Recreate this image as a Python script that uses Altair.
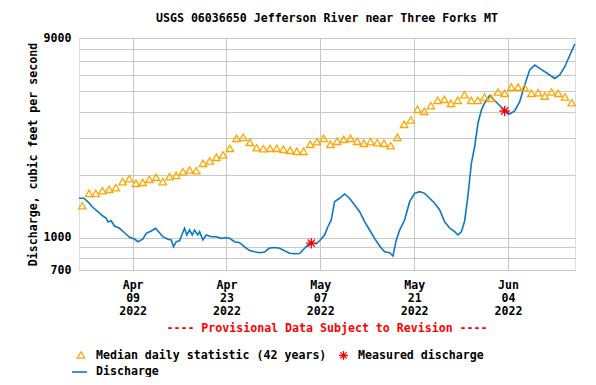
import altair as alt
import pandas as pd

# ---- data ----
START_MS = 1648771200000  # 2022-04-01T00:00:00Z
DAY_MS = 86400000

discharge_days = [0.0, 0.72, 1.31, 2.06, 2.81, 3.55, 4.06, 4.30, 4.81, 5.30,
                  6.04, 6.79, 7.54, 8.28, 8.78, 9.52, 10.03, 10.78, 11.42, 12.01,
                  12.51, 13.25, 13.76, 14.10, 14.51, 15.0, 15.34, 15.75, 16.09, 16.49,
                  16.90, 17.24, 17.73, 17.99, 18.48, 18.99, 19.73, 20.48, 21.22, 21.97,
                  22.46, 23.21, 23.96, 24.70, 25.45, 26.19, 26.94, 27.69, 28.33, 29.18,
                  29.93, 30.67, 31.42, 32.16, 32.91, 33.66, 34.15, 34.66, 35.40, 35.90,
                  36.64, 37.13, 37.64, 38.13, 38.88, 39.63, 40.37, 41.12, 41.87, 42.61,
                  43.36, 44.10, 44.85, 45.60, 46.34, 46.84, 47.34, 47.84, 48.58, 49.33,
                  50.07, 50.82, 51.57, 52.31, 53.06, 53.81, 54.55, 55.30, 56.04, 56.54,
                  57.04, 57.54, 58.04, 58.54, 59.03, 59.52, 60.03, 60.52, 61.27, 62.01,
                  62.76, 63.51, 64.25, 65.0, 65.75, 66.49, 67.24, 67.99, 68.73, 69.48,
                  70.22, 70.97, 71.72, 72.46, 73.21, 73.96]
discharge_cfs = [1542, 1542, 1485, 1396, 1330, 1268, 1237, 1191, 1201, 1136,
                 1108, 1055, 1003, 984, 956, 982, 1048, 1075, 1108, 1055,
                 1010, 982, 975, 904, 956, 966, 1029, 1108, 1029, 1087,
                 1029, 1087, 1029, 1067, 975, 1029, 1010, 1010, 992, 999,
                 992, 956, 945, 904, 867, 856, 847, 853, 889, 897,
                 889, 865, 842, 837, 840, 889, 922, 940, 935, 966,
                 1029, 1127, 1214, 1485, 1542, 1616, 1542, 1432, 1330, 1191,
                 1087, 992, 912, 856, 847, 817, 975, 1087, 1214, 1485,
                 1628, 1658, 1628, 1542, 1459, 1355, 1191, 1111, 1067, 1029,
                 1067, 1201, 1598, 2266, 2726, 3520, 4075, 4400, 4780, 4524,
                 4281, 4052, 3899, 4030, 4464, 5365, 6328, 6686, 6447, 6211,
                 5988, 5763, 5988, 6541, 7422, 8427]

median_cfs = [1420, 1628, 1628, 1676, 1702, 1733, 1851, 1913, 1818, 1838,
              1900, 1942, 1851, 1955, 1985, 2066, 2105, 2089, 2266, 2324,
              2421, 2483, 2673, 2984, 3016, 2855, 2690, 2661, 2673, 2673,
              2643, 2614, 2586, 2586, 2793, 2874, 2984, 2793, 2887, 2951,
              2984, 2887, 2824, 2874, 2842, 2824, 2750, 3016, 3481, 3650,
              4106, 4017, 4271, 4532, 4583, 4386, 4532, 4822, 4532, 4532,
              4701, 4635, 4967, 4897, 5247, 5247, 5208, 4897, 4929, 4751,
              4967, 4897, 4701, 4416]

measured_days = [34.66, 63.5]
measured_cfs = [940, 4030]

y_grid_values = [700, 800, 900, 1000, 2000, 3000, 4000, 5000, 6000, 7000, 8000, 9000]
y_label_values = [700, 1000, 9000]
x_tick_dates = ["2022-04-09", "2022-04-23", "2022-05-07", "2022-05-21", "2022-06-04"]

title_text = "USGS 06036650 Jefferson River near Three Forks MT"
y_title = "Discharge, cubic feet per second"
provisional_text = "---- Provisional Data Subject to Revision ----"
legend_median = "Median daily statistic (42 years)"
legend_measured = "Measured discharge"
legend_discharge = "Discharge"

# ---- tables ----
disc_df = pd.DataFrame({
    "t": [START_MS + d * DAY_MS for d in discharge_days],
    "cfs": discharge_cfs,
})
med_df = pd.DataFrame({
    "t": [START_MS + (i + 0.5) * DAY_MS for i in range(len(median_cfs))],
    "cfs": median_cfs,
})
meas_df = pd.DataFrame({
    "t": [START_MS + d * DAY_MS for d in measured_days],
    "cfs": measured_cfs,
})

FONT = "DejaVu Sans Mono"
FS = 11.6
W, H = 496, 232

x_scale = alt.Scale(type="utc",
                    domain=[alt.DateTime(year=2022, month=4, date=1, utc=True),
                            alt.DateTime(year=2022, month=6, date=14, utc=True)])
y_scale = alt.Scale(type="log", domain=[700, 9000], nice=False)

tick_vals = []
for s in x_tick_dates:
    yy, mm, dd = s.split("-")
    tick_vals.append(alt.DateTime(year=int(yy), month=int(mm), date=int(dd), utc=True))

x_axis = alt.Axis(
    values=tick_vals, title=None, grid=True, gridColor="#c8c8c8", gridWidth=1,
    domain=False, ticks=False,
    labelExpr="[utcFormat(datum.value, '%b'), utcFormat(datum.value, '%d'), utcFormat(datum.value, '%Y')]",
    labelLineHeight=13, labelPadding=9, labelBaseline="top",
    labelFont=FONT, labelFontSize=FS, labelFontWeight="bold", labelColor="black",
)
y_axis = alt.Axis(
    values=y_grid_values, format="d", grid=True, gridColor="#c8c8c8", gridWidth=1,
    domain=False, ticks=False,
    labelExpr="indexof(%s, datum.value) >= 0 ? datum.label : ''" % str(y_label_values),
    labelPadding=8, labelFont=FONT, labelFontSize=FS, labelFontWeight="bold",
    labelColor="black", labelOverlap=False,
    title=y_title, titleFont=FONT, titleFontSize=FS, titleFontWeight="bold",
    titleColor="black", titleX=-46, titleY=H / 2, titleAngle=270,
    titleAlign="center", titleBaseline="middle",
)

line = alt.Chart(disc_df).mark_line(color="#0a78c8", strokeWidth=1.6).encode(
    x=alt.X("t:T", scale=x_scale, axis=x_axis),
    y=alt.Y("cfs:Q", scale=y_scale, axis=y_axis),
)
medians = alt.Chart(med_df).mark_point(
    shape="triangle-up", filled=False, color="#ffa500", size=55, strokeWidth=1.3, opacity=1
).encode(x="t:T", y="cfs:Q")

STAR = "M-1,0L1,0M0,-1L0,1M-0.7,-0.7L0.7,0.7M-0.7,0.7L0.7,-0.7"
stars = alt.Chart(meas_df).mark_point(
    shape=STAR, filled=False, color="#ff0000", size=110, strokeWidth=1.3, opacity=1
).encode(x="t:T", y="cfs:Q")
star_dots = alt.Chart(meas_df).mark_point(
    shape="circle", filled=True, color="#ff0000", size=14, opacity=1
).encode(x="t:T", y="cfs:Q")

one = pd.DataFrame({"a": [0]})

def txt(text, x, y, color="black", align="left"):
    return alt.Chart(one).mark_text(
        font=FONT, fontSize=FS, fontWeight="bold", color=color, align=align, baseline="middle"
    ).encode(x=alt.value(x), y=alt.value(y), text=alt.value(text))

title = txt(title_text, W / 2, -19, align="center")
prov = txt(provisional_text, W / 2, 291, color="#ff0000", align="center")
leg1 = txt(legend_median, 17, 317.5)
leg2 = txt(legend_measured, 279, 317.5)
leg3 = txt(legend_discharge, 17, 334)

leg_tri = alt.Chart(one).mark_point(
    shape="triangle-up", filled=False, color="#ffa500", size=55, strokeWidth=1.3, opacity=1
).encode(x=alt.value(2), y=alt.value(317))
leg_star = alt.Chart(one).mark_point(
    shape=STAR, filled=False, color="#ff0000", size=80, strokeWidth=1.3, opacity=1
).encode(x=alt.value(264.5), y=alt.value(317.5))
leg_line = alt.Chart(one).mark_rule(color="#0a78c8", strokeWidth=1.6).encode(
    x=alt.value(-7), x2=alt.value(8), y=alt.value(334)
)

chart = alt.layer(
    line, medians, stars, star_dots, title, prov, leg1, leg2, leg3, leg_tri, leg_star, leg_line
).properties(
    width=W, height=H,
    autosize=alt.AutoSizeParams(type="none"),
    padding={"left": 71, "top": 30, "right": 13, "bottom": 107},
).configure_view(
    stroke="black", strokeWidth=1.2
).configure(background="white")

chart.save("out.html", embed_options={"renderer": "svg", "actions": False})
